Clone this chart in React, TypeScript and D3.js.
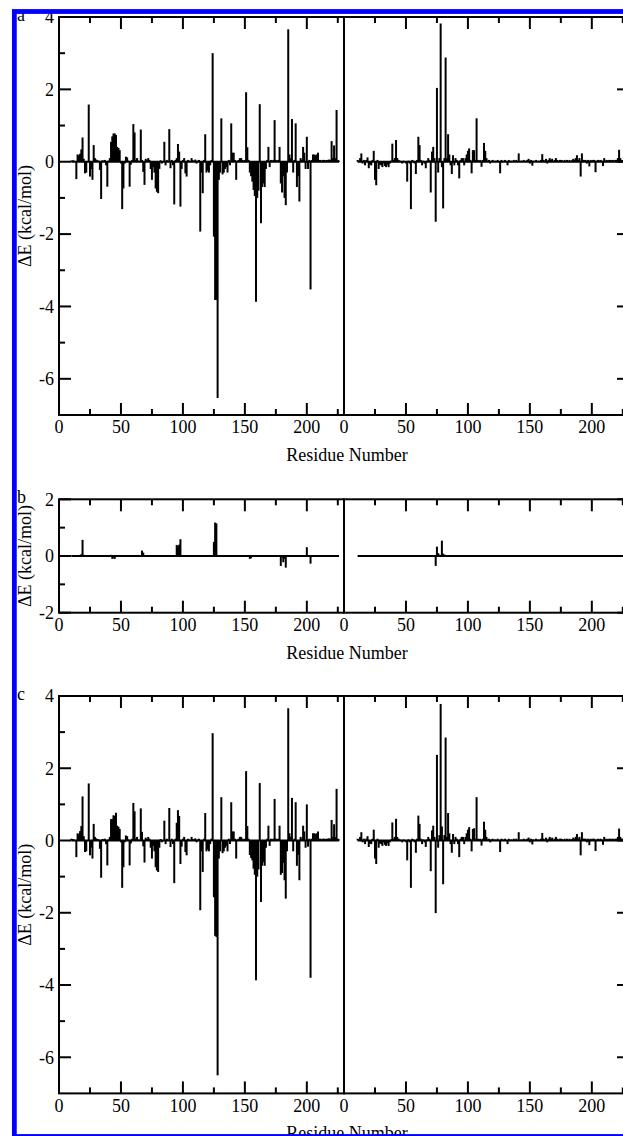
import React from 'react';
import * as d3 from 'd3';

// ---- axes / ticks ----
const X_DOMAIN: [number, number] = [0, 230];
const X_MAJOR = [0, 50, 100, 150, 200];
const X_MINOR = [25, 75, 125, 175, 225];
const Y_MAJOR_AC = [-6, -4, -2, 0, 2, 4];
const Y_MINOR_AC = [-5, -3, -1, 1, 3];
const Y_MAJOR_B = [-2, 0, 2];
const Y_MINOR_B = [-1, 1];
const LEFT_SPAN: [number, number] = [10, 226];
const RIGHT_SPAN: [number, number] = [11, 232];

// ---- panel a: [residue, ΔE kcal/mol] ----
const aLeft: [number, number][] = [
  [10,0.03],[11,0.04],[12,0.03],[14,-0.48],[15,0.2],[16,0.18],[17,0.22],[18,0.34],[19,0.67],[20,0.08],
  [21,-0.32],[22,-0.3],[24,1.58],[25,-0.41],[26,-0.2],[27,-0.5],[28,0.46],[29,0.1],[30,0.06],[31,0.04],
  [32,0.03],[33,-0.23],[34,-1.03],[35,0.04],[36,0.03],[37,0.05],[38,-0.1],[39,-0.69],[40,0.03],[41,0.1],
  [42,0.55],[43,0.7],[44,0.78],[45,0.78],[46,0.74],[47,0.41],[48,0.38],[49,0.32],[50,-0.05],[51,-1.31],
  [52,-0.74],[53,-0.05],[54,0.14],[55,0.12],[56,0.03],[57,-0.69],[58,-0.08],[59,0.05],[60,1.04],[61,0.81],
  [62,0.05],[63,0.1],[64,0.03],[66,0.89],[67,0.05],[68,-0.28],[69,-0.64],[70,0.08],[71,0.04],[72,0.1],
  [73,0.05],[74,-0.2],[75,-0.5],[76,-0.15],[77,-0.3],[78,-0.74],[79,-0.83],[80,-0.87],[81,-0.2],[82,0.04],
  [83,-0.05],[85,0.55],[86,-0.1],[87,0.05],[89,0.9],[90,-0.18],[91,0.05],[92,-0.1],[93,-1.18],[94,0.05],
  [95,0.1],[96,0.49],[97,0.28],[98,-1.24],[99,-0.2],[100,0.05],[101,0.1],[102,-0.32],[103,-0.41],[104,0.05],
  [105,0.03],[107,0.1],[108,0.04],[109,0.03],[110,0.06],[111,-0.05],[112,0.03],[113,0.05],[114,-1.93],[115,-0.3],
  [116,-0.87],[117,0.05],[118,0.76],[119,-0.3],[120,-0.25],[121,-0.3],[122,-0.1],[123,0.05],[124,3.0],[125,-2.07],
  [126,-3.82],[127,-3.82],[128,-6.53],[129,-0.5],[130,-0.3],[131,1.2],[132,-0.35],[133,-0.3],[134,-0.2],[135,-0.15],
  [136,-0.3],[137,0.05],[138,-0.1],[139,1.06],[140,0.25],[141,0.25],[142,0.05],[143,-0.5],[144,0.03],[145,0.05],
  [146,0.1],[147,0.1],[148,0.05],[149,0.03],[150,0.05],[151,1.92],[152,0.4],[153,0.05],[154,-0.3],[155,-0.4],
  [156,-0.55],[157,-0.78],[158,-0.95],[159,-3.87],[160,-1.0],[161,-0.8],[162,1.59],[163,-1.7],[164,-0.7],[165,-0.6],
  [166,-0.7],[167,-0.2],[168,0.05],[169,0.41],[170,-0.15],[171,0.05],[172,0.03],[173,0.05],[174,1.15],[175,0.05],
  [176,0.03],[177,0.05],[178,0.41],[179,-0.6],[180,-0.85],[181,-0.4],[182,-1.0],[183,-1.2],[184,-0.3],[185,3.66],
  [186,0.2],[187,0.1],[188,1.18],[189,-0.3],[190,0.05],[191,1.06],[192,-0.7],[193,-0.4],[194,-1.1],[195,0.1],
  [196,0.05],[197,0.41],[198,0.25],[199,-0.2],[200,0.69],[201,-0.2],[202,0.05],[203,-3.53],[204,0.05],[205,0.2],
  [206,0.2],[207,0.18],[208,0.2],[209,0.25],[210,0.05],[211,0.05],[212,0.03],[213,0.05],[214,0.05],[215,0.04],
  [216,0.05],[217,0.05],[218,0.06],[219,0.05],[220,0.57],[221,0.1],[222,0.45],[223,0.1],[224,1.43],[225,0.05],[226,0.03],
];

const aRight: [number, number][] = [
  [11,0.05],[12,0.03],[13,0.1],[14,0.23],[15,-0.05],[16,0.05],[17,-0.1],[18,0.05],[19,0.12],[20,-0.18],
  [21,-0.08],[22,-0.1],[23,0.05],[24,0.3],[25,-0.5],[26,-0.65],[27,0.05],[28,-0.2],[29,-0.08],[30,-0.1],
  [31,-0.15],[32,-0.05],[33,-0.12],[34,-0.15],[35,-0.08],[36,-0.15],[37,-0.05],[38,0.03],[39,0.5],[40,0.05],
  [41,0.1],[42,0.6],[43,0.1],[44,0.05],[45,0.03],[47,-0.05],[48,0.03],[50,-0.05],[51,-0.55],[52,0.03],
  [53,-0.05],[54,-1.31],[55,0.05],[56,0.03],[57,-0.05],[58,-0.34],[59,0.05],[60,0.69],[61,0.46],[62,0.05],
  [63,-0.1],[64,0.03],[65,-0.05],[66,-0.18],[67,0.03],[68,0.1],[69,0.05],[70,-0.85],[71,0.28],[72,0.41],
  [73,0.1],[74,-1.66],[75,2.04],[76,-0.3],[77,0.1],[78,3.82],[79,-0.15],[80,-1.29],[81,0.1],[82,2.88],
  [83,0.1],[84,0.76],[85,0.2],[86,-0.1],[87,-0.34],[88,0.18],[89,-0.1],[90,0.1],[91,0.05],[92,-0.1],
  [93,-0.46],[94,0.05],[95,0.1],[96,0.1],[97,-0.1],[98,0.1],[99,0.2],[100,0.3],[101,0.37],[102,0.05],
  [103,-0.32],[104,0.32],[105,0.32],[106,0.05],[107,1.2],[108,0.05],[109,0.03],[110,0.05],[111,-0.14],[112,0.05],
  [113,0.52],[114,0.3],[115,0.1],[116,0.03],[117,0.05],[118,-0.05],[119,0.03],[120,0.05],[122,0.03],[124,0.05],
  [126,-0.32],[127,0.05],[128,0.03],[130,0.05],[132,-0.1],[133,0.05],[135,0.03],[137,0.05],[139,0.05],[141,0.23],
  [143,0.03],[145,0.05],[147,0.03],[148,0.05],[149,0.08],[150,-0.05],[151,0.05],[152,-0.11],[153,0.03],[155,0.05],
  [157,0.03],[159,0.05],[160,0.21],[161,0.05],[162,0.03],[163,0.08],[164,-0.05],[165,0.05],[166,0.1],[167,0.05],
  [168,0.08],[170,0.05],[171,0.1],[172,0.05],[174,0.05],[175,0.05],[176,0.04],[178,0.05],[180,0.05],[182,0.05],
  [184,0.04],[185,0.08],[186,0.05],[187,0.1],[188,0.18],[189,0.05],[190,0.1],[191,-0.41],[192,0.23],[193,0.05],
  [194,0.05],[195,0.05],[196,-0.05],[197,0.05],[198,-0.13],[199,0.05],[200,0.03],[201,0.05],[202,0.05],[203,-0.29],
  [204,0.03],[205,0.05],[206,0.03],[207,0.05],[208,0.03],[209,-0.12],[210,0.1],[211,0.03],[212,0.05],[213,0.03],
  [214,0.05],[215,0.05],[216,0.04],[217,0.05],[218,0.03],[219,0.05],[220,0.05],[221,0.1],[222,0.33],[223,0.1],
  [224,0.05],[225,0.05],[226,0.03],
];

// ---- panel b ----
const bLeft: [number, number][] = [
  [10,0.02],[14,0.02],[17,0.04],[18,0.06],[19,0.57],[20,0.04],[42,0.04],[43,-0.1],[44,-0.08],[45,-0.1],
  [46,0.03],[67,0.19],[68,0.12],[69,0.03],[95,0.39],[96,0.35],[97,0.4],[98,0.59],[99,0.03],[124,-0.03],
  [125,0.5],[126,1.18],[127,1.15],[128,0.03],[154,-0.1],[155,-0.08],[179,-0.35],[180,-0.05],[181,-0.22],[182,-0.1],
  [183,-0.41],[200,0.31],[201,0.03],[203,-0.27],
];

const bRight: [number, number][] = [
  [74,-0.35],[75,0.33],[76,0.1],[77,0.05],[79,0.54],[80,0.08],[81,0.05],[103,0.02],[105,0.02],
];

// ---- panel c ----
const cLeft: [number, number][] = [
  [10,0.05],[11,0.04],[12,0.03],[14,-0.46],[15,0.2],[16,0.18],[17,0.26],[18,0.4],[19,1.22],[20,0.12],
  [21,-0.32],[22,-0.3],[24,1.58],[25,-0.41],[26,-0.2],[27,-0.5],[28,0.46],[29,0.1],[30,0.06],[31,0.04],
  [32,0.03],[33,-0.23],[34,-1.03],[35,0.04],[36,0.03],[37,0.05],[38,-0.1],[39,-0.69],[40,0.03],[41,0.1],
  [42,0.59],[43,0.6],[44,0.7],[45,0.68],[46,0.77],[47,0.41],[48,0.38],[49,0.32],[50,-0.05],[51,-1.31],
  [52,-0.74],[53,-0.05],[54,0.14],[55,0.12],[56,0.03],[57,-0.69],[58,-0.08],[59,0.05],[60,1.04],[61,0.81],
  [62,0.05],[63,0.1],[64,0.03],[66,0.89],[67,0.24],[68,-0.16],[69,-0.61],[70,0.08],[71,0.04],[72,0.1],
  [73,0.05],[74,-0.2],[75,-0.5],[76,-0.15],[77,-0.3],[78,-0.74],[79,-0.83],[80,-0.87],[81,-0.2],[82,0.04],
  [83,-0.05],[85,0.55],[86,-0.1],[87,0.05],[89,0.9],[90,-0.18],[91,0.05],[92,-0.1],[93,-1.18],[94,0.05],
  [95,0.49],[96,0.84],[97,0.68],[98,-0.65],[99,-0.17],[100,0.05],[101,0.1],[102,-0.32],[103,-0.41],[104,0.05],
  [105,0.03],[107,0.1],[108,0.04],[109,0.03],[110,0.06],[111,-0.05],[112,0.03],[113,0.05],[114,-1.93],[115,-0.3],
  [116,-0.87],[117,0.05],[118,0.76],[119,-0.3],[120,-0.25],[121,-0.3],[122,-0.1],[123,0.05],[124,2.97],[125,-1.57],
  [126,-2.64],[127,-2.67],[128,-6.5],[129,-0.5],[130,-0.3],[131,1.2],[132,-0.35],[133,-0.3],[134,-0.2],[135,-0.15],
  [136,-0.3],[137,0.05],[138,-0.1],[139,1.06],[140,0.25],[141,0.25],[142,0.05],[143,-0.5],[144,0.03],[145,0.05],
  [146,0.1],[147,0.1],[148,0.05],[149,0.03],[150,0.05],[151,1.92],[152,0.4],[153,0.05],[154,-0.4],[155,-0.48],
  [156,-0.55],[157,-0.78],[158,-0.95],[159,-3.87],[160,-1.0],[161,-0.8],[162,1.59],[163,-1.7],[164,-0.7],[165,-0.6],
  [166,-0.7],[167,-0.2],[168,0.05],[169,0.41],[170,-0.15],[171,0.05],[172,0.03],[173,0.05],[174,1.15],[175,0.05],
  [176,0.03],[177,0.05],[178,0.41],[179,-0.95],[180,-0.9],[181,-0.62],[182,-1.1],[183,-1.61],[184,-0.3],[185,3.66],
  [186,0.2],[187,0.1],[188,1.18],[189,-0.3],[190,0.05],[191,1.06],[192,-0.7],[193,-0.4],[194,-1.1],[195,0.1],
  [196,0.05],[197,0.41],[198,0.25],[199,-0.2],[200,1.0],[201,-0.17],[202,0.05],[203,-3.8],[204,0.05],[205,0.2],
  [206,0.2],[207,0.18],[208,0.2],[209,0.25],[210,0.05],[211,0.05],[212,0.03],[213,0.05],[214,0.05],[215,0.04],
  [216,0.05],[217,0.05],[218,0.06],[219,0.05],[220,0.57],[221,0.1],[222,0.45],[223,0.1],[224,1.43],[225,0.05],[226,0.03],
];

const cRight: [number, number][] = [
  [11,0.05],[12,0.03],[13,0.1],[14,0.23],[15,-0.05],[16,0.05],[17,-0.1],[18,0.05],[19,0.12],[20,-0.18],
  [21,-0.08],[22,-0.1],[23,0.05],[24,0.3],[25,-0.5],[26,-0.65],[27,0.05],[28,-0.2],[29,-0.08],[30,-0.1],
  [31,-0.15],[32,-0.05],[33,-0.12],[34,-0.15],[35,-0.08],[36,-0.15],[37,-0.05],[38,0.03],[39,0.5],[40,0.05],
  [41,0.1],[42,0.6],[43,0.1],[44,0.05],[45,0.03],[47,-0.05],[48,0.03],[50,-0.05],[51,-0.55],[52,0.03],
  [53,-0.05],[54,-1.31],[55,0.05],[56,0.03],[57,-0.05],[58,-0.34],[59,0.05],[60,0.69],[61,0.46],[62,0.05],
  [63,-0.1],[64,0.03],[65,-0.05],[66,-0.18],[67,0.03],[68,0.1],[69,0.05],[70,-0.85],[71,0.28],[72,0.41],
  [73,0.1],[74,-2.01],[75,2.37],[76,-0.2],[77,0.15],[78,3.78],[79,0.39],[80,-1.21],[81,0.15],[82,2.85],
  [83,0.1],[84,0.76],[85,0.2],[86,-0.1],[87,-0.34],[88,0.18],[89,-0.1],[90,0.1],[91,0.05],[92,-0.1],
  [93,-0.46],[94,0.05],[95,0.1],[96,0.1],[97,-0.1],[98,0.1],[99,0.2],[100,0.3],[101,0.37],[102,0.05],
  [103,-0.3],[104,0.32],[105,0.34],[106,0.05],[107,1.2],[108,0.05],[109,0.03],[110,0.05],[111,-0.14],[112,0.05],
  [113,0.52],[114,0.3],[115,0.1],[116,0.03],[117,0.05],[118,-0.05],[119,0.03],[120,0.05],[122,0.03],[124,0.05],
  [126,-0.32],[127,0.05],[128,0.03],[130,0.05],[132,-0.1],[133,0.05],[135,0.03],[137,0.05],[139,0.05],[141,0.23],
  [143,0.03],[145,0.05],[147,0.03],[148,0.05],[149,0.08],[150,-0.05],[151,0.05],[152,-0.11],[153,0.03],[155,0.05],
  [157,0.03],[159,0.05],[160,0.21],[161,0.05],[162,0.03],[163,0.08],[164,-0.05],[165,0.05],[166,0.1],[167,0.05],
  [168,0.08],[170,0.05],[171,0.1],[172,0.05],[174,0.05],[175,0.05],[176,0.04],[178,0.05],[180,0.05],[182,0.05],
  [184,0.04],[185,0.08],[186,0.05],[187,0.1],[188,0.18],[189,0.05],[190,0.1],[191,-0.41],[192,0.23],[193,0.05],
  [194,0.05],[195,0.05],[196,-0.05],[197,0.05],[198,-0.13],[199,0.05],[200,0.03],[201,0.05],[202,0.05],[203,-0.29],
  [204,0.03],[205,0.05],[206,0.03],[207,0.05],[208,0.03],[209,-0.12],[210,0.1],[211,0.03],[212,0.05],[213,0.03],
  [214,0.05],[215,0.05],[216,0.04],[217,0.05],[218,0.03],[219,0.05],[220,0.05],[221,0.1],[222,0.33],[223,0.1],
  [224,0.05],[225,0.05],[226,0.03],
];

const FONT = "'Liberation Serif', 'Times New Roman', Times, 'DejaVu Serif', serif";
const Y_TITLE = 'ΔE (kcal/mol)';
const X_TITLE = 'Residue Number';

type Scale = d3.ScaleLinear<number, number>;

function Bars({ data, x, y, span }: { data: [number, number][]; x: Scale; y: Scale; span: [number, number] }) {
  return (
    <g stroke="#000" strokeWidth={2}>
      <line x1={x(span[0])} x2={x(span[1])} y1={y(0)} y2={y(0)} />
      {data.map(([r, v]) => (
        <line key={r} x1={x(r)} x2={x(r)} y1={y(0)} y2={y(v)} />
      ))}
    </g>
  );
}

function XTicks({ x, top, bottom }: { x: Scale; top: number; bottom: number }) {
  return (
    <g stroke="#000" strokeWidth={2}>
      {X_MAJOR.map((t) => (
        <g key={'M' + t}>
          <line x1={x(t)} x2={x(t)} y1={top} y2={top + 12} />
          <line x1={x(t)} x2={x(t)} y1={bottom} y2={bottom - 12} />
        </g>
      ))}
      {X_MINOR.map((t) => (
        <g key={'m' + t}>
          <line x1={x(t)} x2={x(t)} y1={top} y2={top + 6} />
          <line x1={x(t)} x2={x(t)} y1={bottom} y2={bottom - 6} />
        </g>
      ))}
    </g>
  );
}

function Panel({
  yDom, yRng, yMajor, yMinor, left, right, letter,
}: {
  yDom: [number, number]; yRng: [number, number]; yMajor: number[]; yMinor: number[];
  left: [number, number][]; right: [number, number][]; letter: string;
}) {
  const y = d3.scaleLinear().domain(yDom).range(yRng);
  const xl = d3.scaleLinear().domain(X_DOMAIN).range([59, 344]);
  const xr = d3.scaleLinear().domain(X_DOMAIN).range([344, 629]);
  const top = y(yDom[1]);
  const bottom = y(yDom[0]);
  const x0 = xl(0);
  const x1 = xr(230);
  return (
    <g>
      <Bars data={left} x={xl} y={y} span={LEFT_SPAN} />
      <Bars data={right} x={xr} y={y} span={RIGHT_SPAN} />
      <g fill="none" stroke="#000" strokeWidth={2}>
        <rect x={xl(0)} y={top} width={xl(230) - xl(0)} height={bottom - top} />
        <rect x={xr(0)} y={top} width={xr(230) - xr(0)} height={bottom - top} />
      </g>
      <XTicks x={xl} top={top} bottom={bottom} />
      <XTicks x={xr} top={top} bottom={bottom} />
      <g stroke="#000" strokeWidth={2}>
        {yMajor.map((t) => (
          <g key={'M' + t}>
            <line x1={x0} x2={x0 + 12} y1={y(t)} y2={y(t)} />
            <line x1={x1} x2={x1 - 12} y1={y(t)} y2={y(t)} />
          </g>
        ))}
        {yMinor.map((t) => (
          <g key={'m' + t}>
            <line x1={x0} x2={x0 + 6} y1={y(t)} y2={y(t)} />
            <line x1={x1} x2={x1 - 6} y1={y(t)} y2={y(t)} />
          </g>
        ))}
      </g>
      <g style={{ fontFamily: FONT, fontSize: '18px' }} fill="#000">
        {yMajor.map((t) => (
          <text key={'yl' + t} x={54} y={y(t)} dy="0.35em" textAnchor="end">{String(t)}</text>
        ))}
        {X_MAJOR.map((t) => (
          <text key={'xl' + t} x={xl(t)} y={bottom + 18.3} textAnchor="middle">{String(t)}</text>
        ))}
        {X_MAJOR.map((t) => (
          <text key={'xr' + t} x={xr(t)} y={bottom + 18.3} textAnchor="middle">{String(t)}</text>
        ))}
        <text x={347} y={bottom + 46} textAnchor="middle">{X_TITLE}</text>
        <text transform={`translate(31,${(top + bottom) / 2}) rotate(-90)`} textAnchor="middle">{Y_TITLE}</text>
        <text x={17} y={top + 4}>{letter}</text>
      </g>
    </g>
  );
}

export default function App() {
  return (
    <svg width={623} height={1136} style={{ position: 'absolute', left: 0, top: 0, background: '#fff' }}>
      <rect x={0} y={0} width={623} height={1136} fill="#fff" />
      <Panel yDom={[-7, 4]} yRng={[415, 17]} yMajor={Y_MAJOR_AC} yMinor={Y_MINOR_AC} left={aLeft} right={aRight} letter="a" />
      <Panel yDom={[-2, 2]} yRng={[612.7, 499.3]} yMajor={Y_MAJOR_B} yMinor={Y_MINOR_B} left={bLeft} right={bRight} letter="b" />
      <Panel yDom={[-7, 4]} yRng={[1093.4, 696]} yMajor={Y_MAJOR_AC} yMinor={Y_MINOR_AC} left={cLeft} right={cRight} letter="c" />
      <rect x={14.35} y={11.5} width={700} height={1125} fill="none" stroke="#0000ff" strokeWidth={4.8} />
    </svg>
  );
}
